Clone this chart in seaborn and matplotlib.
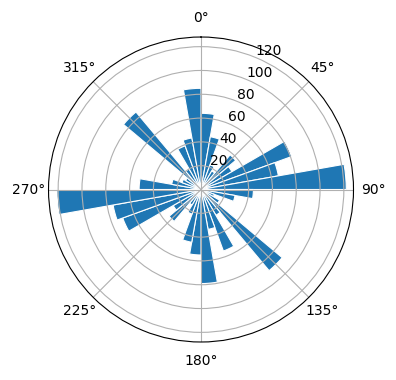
import numpy as np
import matplotlib
matplotlib.use("Agg")
import matplotlib.pyplot as plt
import seaborn as sns

# Direction bins (degrees, clockwise from north, left edge of each 10° bin)
bin_start_deg = [0, 10, 20, 30, 40, 50, 60, 70, 80,
                 90, 100, 110, 120, 130, 140, 150, 160, 170,
                 180, 190, 200, 210, 220, 230, 240, 250, 260,
                 270, 280, 290, 300, 310, 320, 330, 340, 350]
counts = [64, 45, 22, 18, 38, 30, 81, 66, 122,
          44, 29, 12, 18, 89, 25, 55, 34, 79,
          55, 45, 22, 15, 35, 27, 70, 75, 121,
          52, 25, 17, 15, 85, 20, 39, 44, 85]
bin_width_deg = 10

color = sns.color_palette()[0]

fig = plt.figure(figsize=(3.96, 3.80), dpi=100)
ax = fig.add_axes([0.1225, 0.1, 0.7702, 0.8026], projection="polar")
ax.set_theta_zero_location("N")
ax.set_theta_direction(-1)

theta = np.deg2rad(bin_start_deg)
ax.bar(theta, counts, width=np.deg2rad(bin_width_deg), align="edge",
       color=color, edgecolor="white", linewidth=0.8)
ax.set_rticks([20, 40, 60, 80, 100, 120])
ax.set_rlabel_position(22.5)

fig.savefig("out.png", dpi=100)
